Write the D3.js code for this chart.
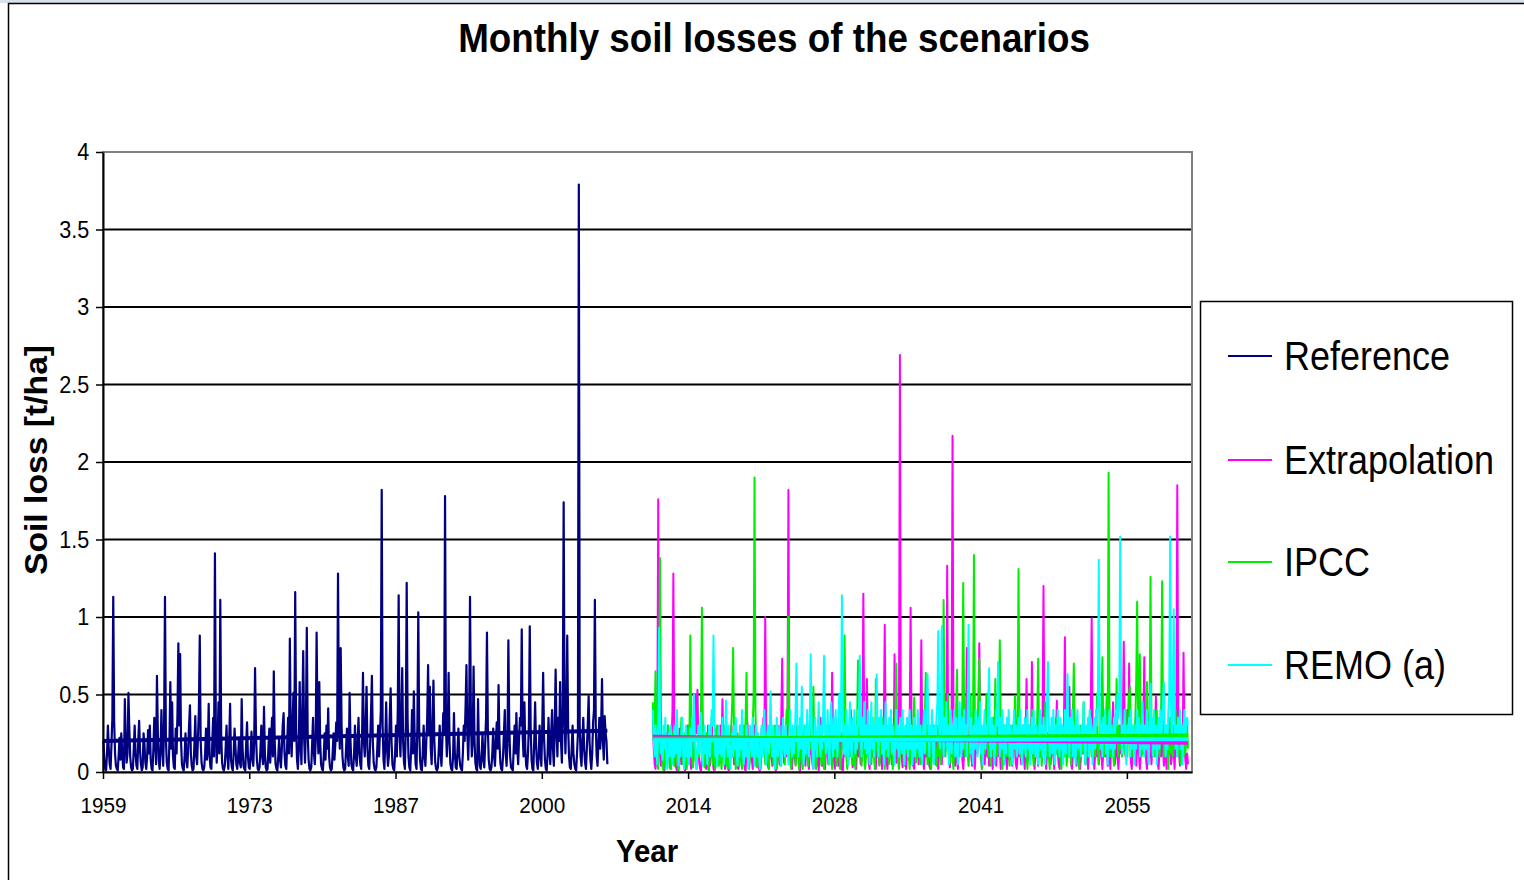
<!DOCTYPE html>
<html>
<head>
<meta charset="utf-8">
<script src="https://cdn.jsdelivr.net/npm/d3@7"></script>
<style>
  body { margin: 0; background: #fff; }
  svg { display: block; }
  text { font-family: "Liberation Sans", Arial, sans-serif; }
</style>
</head>
<body>
<div id="chart"></div>
<script>
// category axis: one category per month, a label every 164 months
const yearLabels = ["1959", "1973", "1987", "2000", "2014", "2028", "2041", "2055"];
const labelStep = 164;
const totalMonths = 1221;
const yTicks = [0, 0.5, 1, 1.5, 2, 2.5, 3, 3.5, 4];

const seriesNames = ["Reference", "Extrapolation", "IPCC", "REMO (a)"];
const seriesStart = [0, 616, 616, 616];   // first month index of each series

// monthly soil loss [t/ha]
const reference = [
  0.2, 0.08, 0.02, 0.01, 0.12, 0.3, 0.15, 0.05, 0.02, 0.18, 0.35, 1.13,
  0.33, 0.12, 0.04, 0.02, 0.01, 0.1, 0.22, 0.08, 0.25, 0.14, 0.03, 0.02,
  0.47, 0.2, 0.06, 0.12, 0.51, 0.28, 0.1, 0.03, 0.01, 0.02, 0.15, 0.3,
  0.12, 0.04, 0.02, 0.2, 0.33, 0.14, 0.05, 0.01, 0.03, 0.25, 0.18, 0.06,
  0.02, 0.1, 0.27, 0.12, 0.3, 0.08, 0.02, 0.01, 0.15, 0.35, 0.2, 0.05,
  0.62, 0.25, 0.08, 0.02, 0.12, 0.4, 0.18, 0.04, 0.3, 1.13, 0.22, 0.06,
  0.02, 0.01, 0.2, 0.58, 0.15, 0.45, 0.1, 0.03, 0.02, 0.28, 0.12, 0.38,
  0.83, 0.3, 0.76, 0.2, 0.05, 0.02, 0.01, 0.1, 0.25, 0.08, 0.03, 0.15,
  0.3, 0.43, 0.12, 0.04, 0.01, 0.02, 0.18, 0.36, 0.1, 0.05, 0.22, 0.4,
  0.88, 0.2, 0.06, 0.02, 0.01, 0.03, 0.12, 0.28, 0.08, 0.15, 0.44, 0.1,
  0.03, 0.02, 0.18, 0.35, 0.1, 1.41, 0.3, 0.06, 0.2, 0.45, 0.12, 1.11,
  0.25, 0.06, 0.02, 0.01, 0.04, 0.15, 0.3, 0.1, 0.02, 0.2, 0.44, 0.08,
  0.03, 0.01, 0.12, 0.28, 0.16, 0.05, 0.02, 0.1, 0.22, 0.06, 0.03, 0.47,
  0.15, 0.04, 0.02, 0.01, 0.18, 0.32, 0.1, 0.03, 0.02, 0.12, 0.26, 0.08,
  0.04, 0.2, 0.67, 0.25, 0.08, 0.02, 0.01, 0.03, 0.14, 0.3, 0.1, 0.05,
  0.42, 0.12, 0.03, 0.01, 0.02, 0.16, 0.28, 0.06, 0.2, 0.35, 0.1, 0.65,
  0.2, 0.05, 0.02, 0.01, 0.1, 0.22, 0.08, 0.03, 0.15, 0.3, 0.38, 0.12,
  0.04, 0.02, 0.18, 0.35, 0.12, 0.86, 0.25, 0.1, 0.3, 0.51, 0.2, 1.16,
  0.3, 0.08, 0.02, 0.15, 0.58, 0.2, 0.05, 0.4, 0.78, 0.22, 0.06, 0.3,
  0.93, 0.25, 0.08, 0.02, 0.01, 0.03, 0.18, 0.35, 0.12, 0.05, 0.2, 0.9,
  0.3, 0.12, 0.58, 0.2, 0.05, 0.02, 0.01, 0.1, 0.25, 0.08, 0.3, 0.15,
  0.41, 0.1, 0.03, 0.01, 0.02, 0.12, 0.25, 0.08, 0.18, 0.32, 0.2, 1.28,
  0.35, 0.15, 0.8, 0.3, 0.1, 0.03, 0.01, 0.02, 0.15, 0.28, 0.1, 0.04,
  0.51, 0.2, 0.05, 0.02, 0.01, 0.12, 0.3, 0.1, 0.04, 0.2, 0.35, 0.12,
  0.05, 0.02, 0.25, 0.64, 0.2, 0.1, 0.3, 0.55, 0.15, 0.04, 0.02, 0.18,
  0.38, 0.62, 0.2, 0.06, 0.02, 0.01, 0.03, 0.15, 0.3, 0.1, 0.25, 0.4,
  1.82, 0.3, 0.08, 0.02, 0.2, 0.45, 0.15, 0.04, 0.1, 0.35, 0.54, 0.2,
  0.05, 0.02, 0.01, 0.12, 0.3, 0.1, 0.4, 1.14, 0.25, 0.1, 0.35, 0.67,
  0.2, 0.06, 0.02, 0.3, 1.22, 0.35, 0.1, 0.03, 0.01, 0.15, 0.4, 0.12,
  0.52, 0.2, 0.05, 0.02, 0.3, 1.03, 0.28, 0.08, 0.02, 0.01, 0.12, 0.3,
  0.1, 0.04, 0.2, 0.35, 0.69, 0.25, 0.55, 0.15, 0.05, 0.3, 0.59, 0.2,
  0.06, 0.02, 0.01, 0.03, 0.15, 0.3, 0.12, 0.04, 0.2, 0.38, 0.25, 1.78,
  0.3, 0.1, 0.25, 0.64, 0.2, 0.05, 0.02, 0.01, 0.1, 0.38, 0.12, 0.03,
  0.02, 0.15, 0.28, 0.1, 0.04, 0.02, 0.01, 0.12, 0.3, 0.2, 0.42, 0.69,
  0.25, 0.08, 0.3, 1.13, 0.35, 0.1, 0.2, 0.68, 0.22, 0.06, 0.02, 0.01,
  0.47, 0.15, 0.04, 0.02, 0.1, 0.25, 0.08, 0.03, 0.18, 0.35, 0.9, 0.28,
  0.08, 0.02, 0.01, 0.03, 0.12, 0.28, 0.1, 0.04, 0.2, 0.32, 0.15, 0.56,
  0.2, 0.06, 0.02, 0.01, 0.1, 0.25, 0.4, 0.12, 0.04, 0.18, 0.85, 0.3,
  0.1, 0.03, 0.02, 0.01, 0.15, 0.3, 0.12, 0.38, 0.15, 0.05, 0.22, 0.35,
  0.3, 0.92, 0.25, 0.1, 0.45, 0.15, 0.04, 0.02, 0.12, 0.3, 0.94, 0.28,
  0.08, 0.02, 0.01, 0.2, 0.45, 0.18, 0.06, 0.02, 0.1, 0.3, 0.12, 0.04,
  0.3, 0.64, 0.22, 0.08, 0.02, 0.01, 0.12, 0.35, 0.15, 0.05, 0.25, 0.4,
  0.15, 0.04, 0.3, 0.66, 0.25, 0.1, 0.35, 0.2, 0.58, 0.2, 0.06, 0.4,
  1.74, 0.35, 0.12, 0.4, 0.88, 0.3, 0.1, 0.03, 0.02, 0.15, 0.3, 0.12,
  0.05, 0.02, 0.01, 0.12, 0.25, 3.79, 0.3, 0.1, 0.04, 0.2, 0.35, 0.15,
  0.06, 0.02, 0.15, 0.3, 0.49, 0.2, 0.08, 0.02, 0.12, 0.32, 0.4, 1.11,
  0.3, 0.1, 0.04, 0.2, 0.35, 0.15, 0.28, 0.6, 0.2, 0.08, 0.36, 0.25,
  0.2, 0.05
];

const extrapolation = [
  0.4, 0.15, 0.05, 0.02, 0.1, 0.3, 1.76, 0.35, 0.12, 0.04, 0.18, 0.08,
  0.02, 0.01, 0.12, 0.25, 0.1, 0.3, 0.15, 0.05, 0.02, 0.2, 0.4, 1.28,
  0.3, 0.1, 0.03, 0.01, 0.02, 0.14, 0.28, 0.12, 0.05, 0.2, 0.1, 0.03,
  0.01, 0.02, 0.15, 0.3, 0.12, 0.2, 0.06, 0.02, 0.1, 0.25, 0.35, 0.2,
  0.5, 0.25, 0.53, 0.2, 0.06, 0.02, 0.01, 0.1, 0.22, 0.08, 0.15, 0.04,
  0.02, 0.12, 0.3, 0.1, 0.04, 0.2, 0.35, 0.12, 0.02, 0.01, 0.15, 0.28,
  0.1, 0.05, 0.2, 0.12, 0.3, 0.15, 0.47, 0.2, 0.06, 0.02, 0.1, 0.18,
  0.06, 0.01, 0.02, 0.15, 0.3, 0.1, 0.22, 0.05, 0.12, 0.28, 0.1, 0.03,
  0.02, 0.18, 0.3, 0.12, 0.05, 0.2, 0.1, 0.02, 0.01, 0.14, 0.32, 0.15,
  0.05, 0.1, 0.25, 0.08, 0.02, 0.15, 0.3, 0.12, 0.04, 0.2, 0.1, 0.02,
  0.01, 0.12, 0.28, 0.15, 0.35, 0.2, 1.0, 0.3, 0.1, 0.04, 0.02, 0.15,
  0.25, 0.1, 0.04, 0.2, 0.12, 0.02, 0.01, 0.1, 0.3, 0.15, 0.05, 0.2,
  0.35, 0.73, 0.2, 0.06, 0.15, 0.3, 0.1, 0.4, 1.82, 0.3, 0.1, 0.03,
  0.02, 0.12, 0.25, 0.1, 0.05, 0.18, 0.3, 0.12, 0.02, 0.01, 0.1, 0.2,
  0.08, 0.25, 0.12, 0.04, 0.2, 0.3, 0.1, 0.02, 0.15, 0.28, 0.12, 0.05,
  0.02, 0.15, 0.3, 0.1, 0.2, 0.06, 0.01, 0.12, 0.35, 0.15, 0.04, 0.2,
  0.1, 0.02, 0.12, 0.28, 0.15, 0.05, 0.2, 0.3, 0.12, 0.64, 0.25, 0.08,
  0.02, 0.1, 0.25, 0.12, 0.04, 0.18, 0.3, 0.1, 0.02, 0.01, 0.15, 0.22,
  0.1, 0.3, 0.15, 0.05, 0.2, 0.12, 0.4, 0.15, 0.03, 0.1, 0.25, 0.08,
  0.02, 0.15, 0.28, 0.1, 0.2, 0.05, 0.12, 0.35, 1.15, 0.3, 0.1, 0.2,
  0.6, 0.2, 0.06, 0.02, 0.12, 0.25, 0.1, 0.3, 0.15, 0.04, 0.02, 0.18,
  0.3, 0.12, 0.05, 0.2, 0.1, 0.02, 0.15, 0.35, 0.95, 0.25, 0.08, 0.02,
  0.12, 0.28, 0.1, 0.2, 0.05, 0.3, 0.15, 0.76, 0.2, 0.06, 0.12, 0.3,
  0.4, 2.69, 0.35, 0.1, 0.03, 0.15, 0.25, 0.08, 0.02, 0.12, 0.3, 0.2,
  0.35, 1.06, 0.3, 0.1, 0.04, 0.02, 0.15, 0.28, 0.1, 0.2, 0.05, 0.12,
  0.3, 0.85, 0.25, 0.08, 0.02, 0.12, 0.2, 0.1, 0.3, 0.15, 0.04, 0.02,
  0.1, 0.25, 0.12, 0.3, 0.15, 0.05, 0.2, 0.1, 0.02, 0.15, 0.35, 0.12,
  0.05, 0.2, 0.1, 0.3, 0.5, 0.2, 1.33, 0.35, 0.1, 0.03, 0.15, 0.4,
  2.17, 0.4, 0.12, 0.04, 0.2, 0.1, 0.02, 0.15, 0.3, 0.12, 0.25, 0.08,
  0.02, 0.12, 0.3, 0.2, 0.8, 0.25, 0.08, 0.15, 0.3, 0.1, 0.04, 0.2,
  0.1, 0.02, 0.15, 0.3, 0.12, 0.35, 0.83, 0.25, 0.1, 0.02, 0.12, 0.2,
  0.05, 0.15, 0.3, 0.1, 0.2, 0.04, 0.12, 0.28, 0.1, 0.02, 0.18, 0.35,
  0.12, 0.04, 0.2, 0.1, 0.3, 0.15, 0.02, 0.1, 0.25, 0.12, 0.05, 0.3,
  0.15, 0.02, 0.1, 0.22, 0.08, 0.3, 0.12, 0.04, 0.2, 0.35, 0.15, 0.05,
  0.02, 0.12, 0.28, 0.1, 0.2, 0.05, 0.15, 0.3, 0.1, 0.02, 0.25, 0.6,
  0.2, 0.08, 0.15, 0.3, 0.12, 0.71, 0.25, 0.1, 0.02, 0.15, 0.3, 0.12,
  0.04, 0.2, 0.1, 0.3, 0.15, 0.4, 1.2, 0.3, 0.1, 0.02, 0.12, 0.25,
  0.1, 0.2, 0.05, 0.15, 0.3, 0.12, 0.02, 0.1, 0.25, 0.46, 0.15, 0.05,
  0.02, 0.12, 0.3, 0.1, 0.2, 0.35, 0.87, 0.25, 0.1, 0.2, 0.3, 0.55,
  0.2, 0.05, 0.02, 0.12, 0.28, 0.1, 0.2, 0.04, 0.15, 0.3, 0.12, 0.02,
  0.1, 0.25, 0.12, 0.3, 0.15, 0.05, 0.2, 0.1, 0.02, 0.15, 0.3, 0.4,
  0.99, 0.3, 0.1, 0.02, 0.12, 0.25, 0.1, 0.2, 0.05, 0.15, 0.3, 0.1,
  0.02, 0.12, 0.2, 0.1, 0.3, 0.15, 0.04, 0.2, 0.1, 0.02, 0.25, 0.3,
  0.45, 0.2, 0.05, 0.12, 0.25, 0.1, 0.02, 0.15, 0.3, 0.12, 0.2, 0.35,
  0.84, 0.3, 0.1, 0.2, 0.4, 0.25, 0.7, 0.2, 0.06, 0.02, 0.12, 0.28,
  0.1, 0.2, 0.04, 0.15, 0.3, 0.12, 0.02, 0.1, 0.25, 0.15, 0.35, 0.74,
  0.25, 0.08, 0.02, 0.12, 0.3, 0.1, 0.2, 0.05, 0.15, 0.28, 0.1, 0.2,
  0.49, 0.2, 0.06, 0.02, 0.12, 0.25, 0.1, 0.3, 0.15, 0.04, 0.2, 0.1,
  0.02, 0.15, 0.3, 0.12, 0.2, 0.05, 0.1, 0.25, 0.12, 0.02, 0.2, 0.4,
  1.85, 0.4, 0.12, 0.04, 0.2, 0.3, 0.1, 0.77, 0.25, 0.08, 0.02, 0.12,
  0.05
];

const ipcc = [
  0.45, 0.2, 0.3, 0.65, 0.2, 0.05, 0.02, 0.3, 1.38, 0.4, 0.12, 0.03,
  0.01, 0.1, 0.22, 0.08, 0.15, 0.3, 0.12, 0.03, 0.02, 0.15, 0.25, 0.1,
  0.04, 0.18, 0.3, 0.12, 0.02, 0.01, 0.1, 0.2, 0.35, 0.15, 0.05, 0.12,
  0.25, 0.1, 0.02, 0.15, 0.3, 0.2, 0.88, 0.3, 0.1, 0.03, 0.12, 0.2,
  0.08, 0.02, 0.12, 0.28, 0.1, 0.2, 0.4, 1.06, 0.35, 0.1, 0.03, 0.15,
  0.25, 0.1, 0.02, 0.01, 0.12, 0.3, 0.15, 0.05, 0.2, 0.1, 0.02, 0.15,
  0.3, 0.12, 0.04, 0.2, 0.1, 0.02, 0.15, 0.25, 0.1, 0.3, 0.12, 0.05,
  0.02, 0.1, 0.2, 0.12, 0.3, 0.45, 0.8, 0.3, 0.1, 0.02, 0.15, 0.25,
  0.1, 0.04, 0.2, 0.12, 0.02, 0.15, 0.3, 0.1, 0.35, 0.64, 0.2, 0.05,
  0.02, 0.12, 0.25, 0.1, 0.3, 0.5, 1.9, 0.4, 0.12, 0.03, 0.1, 0.2,
  0.1, 0.02, 0.15, 0.3, 0.12, 0.2, 0.05, 0.1, 0.25, 0.12, 0.02, 0.15,
  0.3, 0.1, 0.2, 0.05, 0.12, 0.3, 0.15, 0.02, 0.1, 0.22, 0.1, 0.04,
  0.15, 0.3, 0.12, 0.2, 0.05, 0.25, 0.4, 0.3, 1.0, 0.3, 0.1, 0.02,
  0.12, 0.25, 0.1, 0.2, 0.04, 0.15, 0.3, 0.12, 0.02, 0.1, 0.2, 0.08,
  0.02, 0.15, 0.3, 0.1, 0.2, 0.12, 0.04, 0.1, 0.28, 0.15, 0.3, 0.2,
  0.55, 0.2, 0.06, 0.02, 0.12, 0.25, 0.1, 0.3, 0.15, 0.04, 0.2, 0.1,
  0.02, 0.12, 0.3, 0.15, 0.2, 0.05, 0.1, 0.25, 0.12, 0.02, 0.15, 0.3,
  0.1, 0.2, 0.04, 0.15, 0.3, 0.12, 0.02, 0.1, 0.25, 0.15, 0.4, 0.88,
  0.3, 0.1, 0.02, 0.12, 0.2, 0.1, 0.3, 0.15, 0.05, 0.2, 0.1, 0.02,
  0.15, 0.3, 0.72, 0.25, 0.1, 0.2, 0.04, 0.12, 0.3, 0.15, 0.02, 0.1,
  0.25, 0.12, 0.3, 0.1, 0.2, 0.05, 0.15, 0.3, 0.12, 0.02, 0.6, 0.2,
  0.1, 0.2, 0.04, 0.15, 0.3, 0.12, 0.35, 0.1, 0.02, 0.15, 0.25, 0.1,
  0.2, 0.05, 0.12, 0.3, 0.15, 0.02, 0.1, 0.25, 0.4, 0.7, 0.2, 0.06,
  0.02, 0.12, 0.3, 0.15, 0.2, 0.1, 0.04, 0.15, 0.3, 0.12, 0.2, 0.1,
  0.02, 0.15, 0.25, 0.1, 0.3, 0.48, 0.2, 0.06, 0.12, 0.3, 0.1, 0.2,
  0.05, 0.15, 0.3, 0.12, 0.2, 0.35, 0.64, 0.2, 0.05, 0.1, 0.25, 0.12,
  0.02, 0.15, 0.3, 0.1, 0.2, 0.12, 0.04, 0.15, 0.3, 0.1, 0.2, 0.05,
  0.15, 0.4, 1.11, 0.35, 0.1, 0.2, 0.3, 0.5, 0.2, 0.06, 0.12, 0.25,
  0.1, 0.02, 0.15, 0.3, 0.4, 0.66, 0.2, 0.1, 0.3, 0.12, 0.25, 0.45,
  1.22, 0.35, 0.1, 0.2, 0.3, 0.12, 0.04, 0.2, 0.5, 0.25, 0.1, 0.3,
  1.4, 0.4, 0.15, 0.3, 0.2, 0.45, 0.73, 0.25, 0.1, 0.02, 0.15, 0.3,
  0.12, 0.2, 0.5, 0.25, 0.1, 0.3, 0.15, 0.04, 0.2, 0.35, 0.1, 0.25,
  0.6, 0.2, 0.1, 0.3, 0.4, 0.85, 0.3, 0.1, 0.02, 0.15, 0.3, 0.12,
  0.2, 0.1, 0.3, 0.15, 0.04, 0.2, 0.12, 0.3, 0.1, 0.25, 0.49, 0.2,
  0.1, 0.4, 1.31, 0.35, 0.1, 0.2, 0.05, 0.15, 0.3, 0.12, 0.2, 0.1,
  0.02, 0.15, 0.3, 0.1, 0.2, 0.4, 0.12, 0.04, 0.2, 0.3, 0.15, 0.35,
  0.73, 0.25, 0.1, 0.2, 0.04, 0.15, 0.3, 0.12, 0.45, 0.2, 0.1, 0.25,
  0.1, 0.02, 0.15, 0.3, 0.12, 0.2, 0.05, 0.15, 0.35, 0.12, 0.2, 0.1,
  0.3, 0.12, 0.02, 0.15, 0.25, 0.1, 0.3, 0.2, 0.04, 0.15, 0.3, 0.1,
  0.2, 0.05, 0.3, 0.4, 0.7, 0.25, 0.1, 0.2, 0.3, 0.12, 0.02, 0.15,
  0.3, 0.12, 0.2, 0.45, 0.15, 0.05, 0.2, 0.1, 0.3, 0.15, 0.4, 0.2,
  0.1, 0.25, 0.12, 0.3, 0.1, 0.2, 0.5, 0.15, 0.05, 0.2, 0.3, 0.4,
  0.74, 0.3, 0.1, 0.2, 0.35, 0.5, 0.3, 1.93, 0.4, 0.1, 0.2, 0.3,
  0.12, 0.04, 0.2, 0.3, 0.6, 0.2, 0.1, 0.3, 0.15, 0.25, 0.1, 0.2,
  0.3, 0.12, 0.4, 0.2, 0.1, 0.3, 0.5, 0.55, 0.2, 0.1, 0.3, 0.15,
  0.2, 0.35, 0.6, 1.1, 0.4, 0.2, 0.76, 0.3, 0.1, 0.2, 0.12, 0.3,
  0.15, 0.3, 0.58, 0.2, 0.1, 0.4, 1.26, 0.35, 0.12, 0.2, 0.3, 0.1,
  0.2, 0.4, 0.15, 0.3, 0.1, 0.2, 0.45, 1.23, 0.3, 0.1, 0.2, 0.12,
  0.3, 0.15, 0.02, 0.2, 0.35, 0.12, 0.25, 0.1, 0.3, 0.15, 0.4, 0.2,
  0.1, 0.3, 0.12, 0.2, 0.05, 0.15, 0.3, 0.1, 0.25, 0.12, 0.2, 0.3,
  0.15
];

const remo = [
  0.4, 0.2, 0.1, 0.3, 0.15, 0.05, 0.3, 0.93, 0.35, 0.12, 0.2, 0.08,
  0.3, 0.15, 0.35, 0.1, 0.02, 0.12, 0.25, 0.1, 0.3, 0.15, 0.05, 0.2,
  0.1, 0.3, 0.12, 0.4, 0.15, 0.04, 0.2, 0.1, 0.25, 0.35, 0.12, 0.02,
  0.15, 0.3, 0.1, 0.2, 0.05, 0.12, 0.28, 0.1, 0.35, 0.2, 0.5, 0.25,
  0.1, 0.02, 0.15, 0.3, 0.12, 0.2, 0.38, 0.1, 0.04, 0.15, 0.3, 0.12,
  0.2, 0.05, 0.15, 0.3, 0.1, 0.25, 0.4, 0.3, 0.88, 0.35, 0.1, 0.2,
  0.04, 0.15, 0.3, 0.12, 0.2, 0.1, 0.35, 0.15, 0.05, 0.2, 0.46, 0.2,
  0.1, 0.3, 0.12, 0.02, 0.15, 0.25, 0.1, 0.3, 0.15, 0.35, 0.12, 0.04,
  0.2, 0.1, 0.3, 0.15, 0.4, 0.12, 0.05, 0.2, 0.1, 0.3, 0.15, 0.02,
  0.12, 0.3, 0.2, 0.1, 0.35, 0.15, 0.04, 0.2, 0.3, 0.1, 0.25, 0.12,
  0.02, 0.15, 0.3, 0.1, 0.2, 0.4, 0.15, 0.05, 0.2, 0.3, 0.12, 0.25,
  0.52, 0.2, 0.1, 0.3, 0.12, 0.02, 0.15, 0.35, 0.1, 0.2, 0.3, 0.1,
  0.04, 0.2, 0.35, 0.15, 0.1, 0.3, 0.12, 0.2, 0.05, 0.15, 0.4, 0.2,
  0.1, 0.3, 0.12, 0.2, 0.4, 0.7, 0.3, 0.1, 0.2, 0.35, 0.15, 0.55,
  0.2, 0.05, 0.15, 0.3, 0.12, 0.4, 0.2, 0.1, 0.35, 0.76, 0.3, 0.12,
  0.02, 0.2, 0.35, 0.15, 0.1, 0.3, 0.45, 0.2, 0.1, 0.3, 0.15, 0.4,
  0.75, 0.3, 0.12, 0.2, 0.4, 0.15, 0.05, 0.3, 0.45, 0.2, 0.1, 0.35,
  0.15, 0.4, 0.2, 0.1, 0.3, 0.5, 0.2, 0.4, 1.14, 0.35, 0.12, 0.3,
  0.1, 0.4, 0.2, 0.05, 0.3, 0.45, 0.15, 0.1, 0.35, 0.2, 0.4, 0.12,
  0.3, 0.15, 0.4, 0.3, 0.75, 0.25, 0.1, 0.35, 0.2, 0.45, 0.15, 0.3,
  0.12, 0.4, 0.2, 0.05, 0.3, 0.45, 0.15, 0.35, 0.1, 0.3, 0.2, 0.63,
  0.25, 0.1, 0.35, 0.2, 0.4, 0.12, 0.3, 0.05, 0.2, 0.45, 0.15, 0.3,
  0.1, 0.35, 0.2, 0.4, 0.12, 0.3, 0.15, 0.05, 0.25, 0.4, 0.15, 0.3,
  0.1, 0.2, 0.35, 0.12, 0.4, 0.2, 0.05, 0.3, 0.15, 0.35, 0.1, 0.25,
  0.4, 0.15, 0.3, 0.05, 0.2, 0.35, 0.1, 0.3, 0.15, 0.4, 0.2, 0.1,
  0.3, 0.15, 0.05, 0.25, 0.4, 0.12, 0.3, 0.45, 0.63, 0.25, 0.1, 0.3,
  0.2, 0.4, 0.15, 0.05, 0.3, 0.2, 0.35, 0.45, 0.91, 0.3, 0.15, 0.4,
  0.94, 0.3, 0.1, 0.35, 0.2, 0.45, 0.15, 0.3, 0.05, 0.2, 0.4, 0.12,
  0.3, 0.2, 0.4, 0.1, 0.35, 0.15, 0.05, 0.3, 0.45, 0.2, 0.1, 0.35,
  0.15, 0.4, 0.2, 0.3, 0.1, 0.45, 0.95, 0.3, 0.12, 0.35, 0.2, 0.05,
  0.3, 0.15, 0.4, 0.2, 0.1, 0.35, 0.2, 0.45, 0.12, 0.3, 0.05, 0.25,
  0.4, 0.15, 0.3, 0.2, 0.45, 0.67, 0.2, 0.1, 0.35, 0.15, 0.3, 0.05,
  0.2, 0.4, 0.3, 0.71, 0.3, 0.1, 0.35, 0.15, 0.4, 0.2, 0.05, 0.3,
  0.12, 0.35, 0.2, 0.4, 0.1, 0.3, 0.15, 0.05, 0.25, 0.4, 0.15, 0.3,
  0.1, 0.2, 0.35, 0.12, 0.4, 0.2, 0.05, 0.3, 0.15, 0.35, 0.1, 0.25,
  0.4, 0.15, 0.3, 0.05, 0.2, 0.35, 0.12, 0.4, 0.2, 0.1, 0.3, 0.15,
  0.05, 0.25, 0.4, 0.15, 0.3, 0.1, 0.35, 0.2, 0.05, 0.3, 0.45, 0.71,
  0.3, 0.1, 0.2, 0.35, 0.12, 0.4, 0.2, 0.05, 0.3, 0.15, 0.4, 0.2,
  0.1, 0.35, 0.15, 0.3, 0.05, 0.2, 0.4, 0.12, 0.3, 0.63, 0.25, 0.1,
  0.35, 0.2, 0.4, 0.1, 0.3, 0.15, 0.05, 0.25, 0.4, 0.15, 0.3, 0.2,
  0.1, 0.3, 0.2, 0.45, 0.15, 0.05, 0.3, 0.2, 0.35, 0.1, 0.4, 0.15,
  0.3, 0.05, 0.2, 0.35, 0.15, 0.4, 0.3, 0.5, 1.37, 0.4, 0.15, 0.3,
  0.1, 0.35, 0.2, 0.4, 0.12, 0.3, 0.05, 0.25, 0.4, 0.15, 0.3, 0.2,
  0.1, 0.35, 0.15, 0.4, 0.3, 0.5, 0.35, 0.45, 1.52, 0.4, 0.12, 0.3,
  0.2, 0.4, 0.15, 0.05, 0.3, 0.2, 0.35, 0.1, 0.4, 0.15, 0.3, 0.2,
  0.05, 0.3, 0.15, 0.4, 0.2, 0.35, 0.1, 0.3, 0.15, 0.45, 0.2, 0.1,
  0.3, 0.15, 0.4, 0.2, 0.05, 0.3, 0.57, 0.2, 0.35, 0.1, 0.4, 0.15,
  0.3, 0.05, 0.2, 0.35, 0.15, 0.4, 0.2, 0.3, 0.45, 0.58, 0.25, 0.1,
  0.3, 0.15, 0.4, 0.5, 1.52, 0.4, 0.2, 0.45, 1.05, 0.35, 0.15, 0.3,
  0.1, 0.35, 0.2, 0.4, 0.15, 0.3, 0.05, 0.25, 0.4, 0.2, 0.3, 0.35,
  0.3
];

// linear trend of each series: value at its first and last month
const referenceTrend = [0.2, 0.266];
const extrapolationTrend = [0.228, 0.188];
const ipccTrend = [0.215, 0.235];
const remoTrend = [0.205, 0.212];

const colors = ["#000080", "#ff00ff", "#00ee00", "#00ffff"];
const seriesData = [reference, extrapolation, ipcc, remo];
const trendData = [referenceTrend, extrapolationTrend, ipccTrend, remoTrend];

// Drawing
const W = 1524, H = 880;
const plot = { left: 103, right: 1192, top: 152, bottom: 772 };
const squeeze = 0.92;  // text in the picture is slightly narrowed

const svg = d3.select("#chart").append("svg")
    .attr("width", W)
    .attr("height", H);

svg.append("rect").attr("x", 0).attr("y", 0).attr("width", W).attr("height", 3).attr("fill", "#d8e0ea");
svg.append("rect")
    .attr("x", 8.5).attr("y", 3.5)
    .attr("width", W + 20).attr("height", H + 20)
    .attr("fill", "#fff")
    .attr("stroke", "#000").attr("stroke-width", 1.5);

const x = d3.scaleLinear().domain([0, totalMonths]).range([plot.left, plot.right]);
const y = d3.scaleLinear().domain([0, 4]).range([plot.bottom, plot.top]);

// gridlines
svg.append("g")
    .selectAll("line")
    .data(yTicks.filter(d => d > 0 && d < 4))
    .enter()
    .append("line")
    .attr("x1", plot.left).attr("x2", plot.right)
    .attr("y1", d => y(d)).attr("y2", d => y(d))
    .attr("stroke", "#000").attr("stroke-width", 2);

// plot area border (gray top and right)
svg.append("rect")
    .attr("x", plot.left).attr("y", plot.top)
    .attr("width", plot.right - plot.left).attr("height", plot.bottom - plot.top)
    .attr("fill", "none").attr("stroke", "#808080").attr("stroke-width", 2);

// series
seriesData.forEach((vals, s) => {
    const line = d3.line()
        .x((d, i) => x(seriesStart[s] + i + 0.5))
        .y(d => y(d));
    svg.append("path")
        .datum(vals)
        .attr("d", line)
        .attr("fill", "none")
        .attr("stroke", colors[s])
        .attr("stroke-width", s === 0 ? 2.2 : 2)
        .attr("stroke-linejoin", "round");
});

// trend lines
trendData.forEach((t, s) => {
    const n = seriesData[s].length;
    svg.append("line")
        .attr("x1", x(seriesStart[s] + 0.5)).attr("y1", y(t[0]))
        .attr("x2", x(seriesStart[s] + n - 0.5)).attr("y2", y(t[1]))
        .attr("stroke", colors[s])
        .attr("stroke-width", 4);
});

// axes
const xAxis = d3.axisBottom(x)
    .tickValues(yearLabels.map((d, i) => i * labelStep))
    .tickFormat((d, i) => yearLabels[i])
    .tickSize(7).tickSizeOuter(0).tickPadding(18);

const gx = svg.append("g")
    .attr("transform", `translate(0, ${plot.bottom})`)
    .call(xAxis);

const yAxis = d3.axisLeft(y)
    .tickValues(yTicks)
    .tickFormat(d => String(d))
    .tickSize(7).tickSizeOuter(0).tickPadding(8);

const gy = svg.append("g")
    .attr("transform", `translate(${plot.left}, 0)`)
    .call(yAxis);

[gx, gy].forEach(g => {
    g.select(".domain").attr("stroke", "#000").attr("stroke-width", 2);
    g.selectAll(".tick line").attr("stroke", "#000").attr("stroke-width", 1.5);
    g.selectAll(".tick text")
        .attr("fill", "#000")
        .style("font-size", "22.5px")
        .style("font-family", "'Liberation Sans', Arial, sans-serif")
        .attr("transform", `scale(${squeeze},1)`);
});
gy.selectAll(".tick text").style("font-size", "23.5px");

// title
svg.append("g")
    .attr("transform", `translate(774, 52) scale(${squeeze},1)`)
    .append("text")
    .attr("text-anchor", "middle")
    .style("font-size", "40px")
    .style("font-weight", "bold")
    .text("Monthly soil losses of the scenarios");

// axis titles
svg.append("g")
    .attr("transform", `translate(647, 862) scale(${squeeze},1)`)
    .append("text")
    .attr("text-anchor", "middle")
    .style("font-size", "32px")
    .style("font-weight", "bold")
    .text("Year");

svg.append("g")
    .attr("transform", `translate(47, 460) rotate(-90) scale(${1 / squeeze},1)`)
    .append("text")
    .attr("text-anchor", "middle")
    .style("font-size", "31px")
    .style("font-weight", "bold")
    .text("Soil loss [t/ha]");

// legend
const legend = svg.append("g");
legend.append("rect")
    .attr("x", 1200.5).attr("y", 301.5)
    .attr("width", 312).attr("height", 413)
    .attr("fill", "#fff")
    .attr("stroke", "#000").attr("stroke-width", 1.5);

const legendY = [356, 460, 562, 665];
seriesNames.forEach((name, i) => {
    legend.append("line")
        .attr("x1", 1228).attr("x2", 1272)
        .attr("y1", legendY[i]).attr("y2", legendY[i])
        .attr("stroke", colors[i]).attr("stroke-width", 2);
    legend.append("g")
        .attr("transform", `translate(1284, ${legendY[i] + 14}) scale(0.9,1)`)
        .append("text")
        .style("font-size", "40px")
        .text(name);
});
</script>
</body>
</html>
